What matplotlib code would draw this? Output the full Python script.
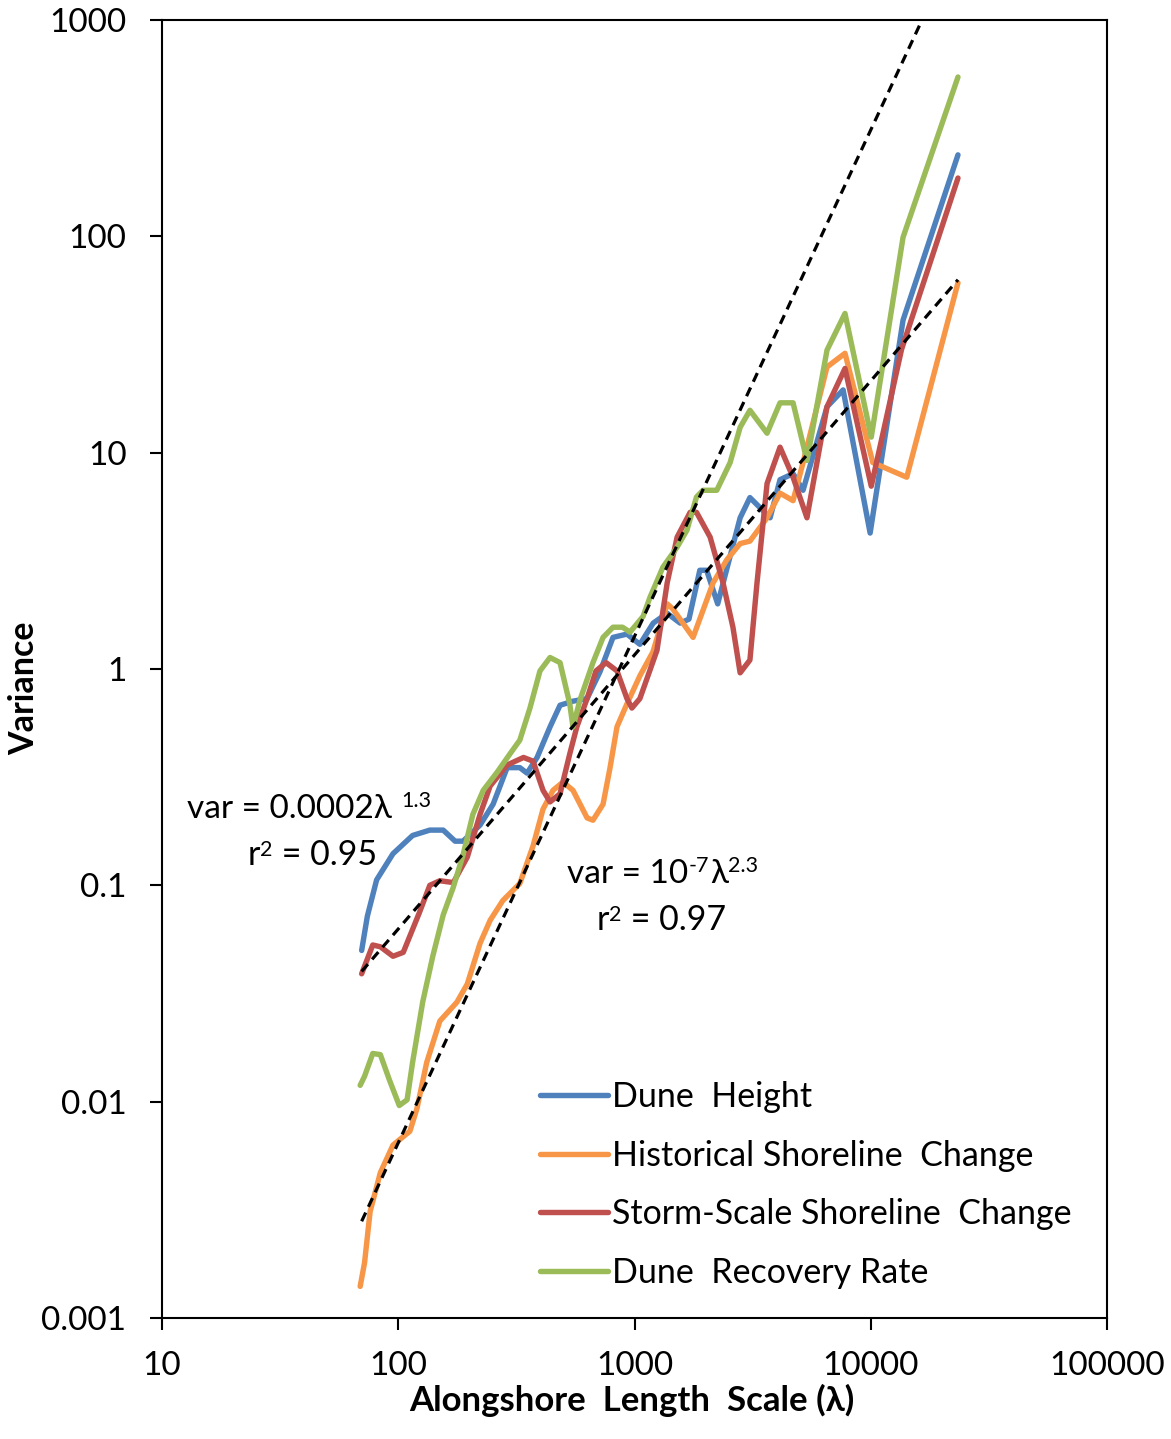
import matplotlib
matplotlib.use("Agg")
import matplotlib.pyplot as plt

plt.rcParams['font.family'] = ['Lato', 'DejaVu Sans']

# ---- data ----
blue_x = [70, 74, 81, 95, 115, 136, 155, 174, 188, 222, 252, 289, 327, 351, 387, 439, 484, 549, 630, 714,
          811, 929, 1054, 1200, 1375, 1560, 1700, 1890, 2020, 2250, 2800, 3080, 3750, 4130, 4690, 5170,
          6530, 7640, 9940, 13700, 23400]
blue_y = [0.05, 0.072, 0.106, 0.14, 0.17, 0.18, 0.18, 0.16, 0.16, 0.19, 0.237, 0.35, 0.35, 0.33, 0.39, 0.54,
          0.68, 0.71, 0.73, 0.97, 1.4, 1.45, 1.3, 1.63, 1.81, 1.63, 1.7, 2.86, 2.86, 2.0, 5.0, 6.2, 5.0, 7.5,
          8.0, 6.7, 16.3, 19.5, 4.25, 41, 238]

orange_x = [69, 72, 76, 84, 95, 112, 120, 132, 150, 177, 196, 222, 245, 277, 327, 372, 410, 452, 498, 549,
            630, 667, 736, 788, 843, 929, 1054, 1197, 1375, 1450, 1770, 2150, 2460, 2800, 3080, 3640, 4130,
            4690, 5170, 6530, 7780, 10200, 14200, 23400]
orange_y = [0.0014, 0.0018, 0.0031, 0.0047, 0.0063, 0.0073, 0.0093, 0.0152, 0.0236, 0.0288, 0.035, 0.054,
            0.069, 0.085, 0.102, 0.152, 0.225, 0.275, 0.30, 0.275, 0.205, 0.2, 0.237, 0.35, 0.54, 0.69, 0.93,
            1.2, 2.0, 1.9, 1.4, 2.5, 3.2, 3.8, 3.9, 5.0, 6.5, 6.0, 9.0, 24.9, 28.8, 9.0, 7.7, 61]

red_x = [70, 78, 84, 95, 105, 123, 136, 150, 171, 196, 222, 245, 289, 339, 372, 410, 439, 484, 532, 570,
         630, 687, 758, 843, 929, 975, 1054, 1245, 1375, 1515, 1720, 1830, 2090, 2370, 2610, 2800, 3080,
         3300, 3640, 4130, 4690, 5370, 6530, 7780, 10050, 13500, 23400]
red_y = [0.039, 0.053, 0.052, 0.047, 0.049, 0.075, 0.1, 0.105, 0.103, 0.135, 0.213, 0.288, 0.36, 0.39,
         0.375, 0.275, 0.243, 0.265, 0.405, 0.54, 0.73, 0.98, 1.07, 0.98, 0.73, 0.66, 0.73, 1.22, 2.5, 4.07,
         5.3, 5.3, 4.07, 2.5, 1.56, 0.96, 1.1, 2.5, 7.2, 10.6, 7.7, 5.0, 16.3, 24.5, 7.0, 30, 186]

green_x = [69, 72, 78, 84, 92, 101, 109, 115, 127, 140, 155, 171, 188, 207, 229, 262, 297, 327, 361, 398,
           439, 484, 532, 549, 588, 667, 736, 811, 890, 957, 1087, 1164, 1320, 1515, 1667, 1830, 1950, 2230,
           2540, 2800, 3080, 3640, 4130, 4690, 5370, 6530, 7780, 10050, 13700, 23400]
green_y = [0.0119, 0.0131, 0.0167, 0.0165, 0.0125, 0.0096, 0.0102, 0.0152, 0.029, 0.047, 0.073, 0.098,
           0.138, 0.213, 0.275, 0.333, 0.405, 0.469, 0.66, 0.98, 1.13, 1.07, 0.69, 0.54, 0.72, 1.07, 1.4,
           1.56, 1.56, 1.48, 1.75, 2.15, 2.96, 3.66, 4.38, 6.24, 6.7, 6.7, 9.0, 13.1, 15.7, 12.3, 17, 17, 9.2,
           29.8, 44, 11.8, 99, 545]

# power-law fit lines (straight in log-log), endpoints
fit1_x = [70, 23400]
fit1_y = [0.04, 63]
fit2_x = [70, 23400]
fit2_y = [0.0028, 2270]

series_names = ["Dune  Height", "Historical Shoreline  Change",
                "Storm-Scale Shoreline  Change", "Dune  Recovery Rate"]
colors = ["#4F81BD", "#F79646", "#C0504D", "#9BBB59"]

x_ticks = [10, 100, 1000, 10000, 100000]
x_ticklabels = ["10", "100", "1000", "10000", "100000"]
y_ticks = [0.001, 0.01, 0.1, 1, 10, 100, 1000]
y_ticklabels = ["0.001", "0.01", "0.1", "1", "10", "100", "1000"]

# ---- figure ----
W, H = 1171, 1439
fig = plt.figure(figsize=(W / 100, H / 100), dpi=100)
L, R, T, B = 162, 1107, 20, 1318
ax = fig.add_axes([L / W, 1 - B / H, (R - L) / W, (B - T) / H])
ax.set_xscale("log")
ax.set_yscale("log")
ax.set_xlim(10, 100000)
ax.set_ylim(0.001, 1000)

lw = 3.9
for xs, ys, c, n in zip([blue_x, orange_x, red_x, green_x], [blue_y, orange_y, red_y, green_y],
                        colors, series_names):
    ax.plot(xs, ys, color=c, lw=lw, label=n, solid_joinstyle="round", solid_capstyle="round", zorder=3)

ax.plot(fit1_x, fit1_y, color="black", lw=2.3, linestyle=(0, (3, 2)), zorder=4)
ax.plot(fit2_x, fit2_y, color="black", lw=2.3, linestyle=(0, (3, 2)), zorder=4)

ax.set_xticks(x_ticks)
ax.set_xticklabels(x_ticklabels)
ax.set_yticks(y_ticks)
ax.set_yticklabels(y_ticklabels)
ax.minorticks_off()
ax.tick_params(axis="both", direction="out", length=8.6, width=1.5, labelsize=24, colors="black")
ax.tick_params(axis="y", pad=17)
ax.tick_params(axis="x", pad=15)
for s in ax.spines.values():
    s.set_linewidth(1.5)

ax.set_xlabel("Alongshore  Length  Scale (λ)", fontsize=25, fontweight="bold")
ax.xaxis.set_label_coords(0.497, -0.051)
ax.set_ylabel("Variance", fontsize=24.5, fontweight="bold")
ax.yaxis.set_label_coords(-0.129, 0.4854)


def ftx(px):
    return (px - L) / (R - L)


def fty(py):
    return (B - py) / (B - T)


def t(px, py, s, size=24):
    return ax.text(ftx(px), fty(py), s, transform=ax.transAxes, fontsize=size, ha="left", va="baseline")


def chain(prev, py, s, dx_px, size=24):
    return ax.annotate(s, xy=(1, fty(py)), xycoords=(prev, "axes fraction"),
                       xytext=(dx_px * 0.72, 0), textcoords="offset points",
                       fontsize=size, ha="left", va="baseline")


a = t(187, 818, "var = 0.0002λ")
chain(a, 807, "1.3", 9, 15.5)

r1 = t(248, 865, "r", 24.5)
r1s = chain(r1, 856, "2", 0, 15.5)
chain(r1s, 865, " = 0.95", 0, 24.5)

b = t(567, 883, "var = 10")
b2 = chain(b, 872, "-7", 1, 15.5)
b3 = chain(b2, 883, "λ", 1)
chain(b3, 872, "2.3", -1, 15.5)

r2 = t(597, 930, "r", 24.5)
r2s = chain(r2, 921, "2", 0, 15.5)
chain(r2s, 930, " = 0.97", 0, 24.5)

leg = ax.legend(loc="upper left", bbox_to_anchor=(ftx(540), fty(1081)), frameon=False, fontsize=24.5,
                handlelength=2.0, handletextpad=0.12, labelspacing=0.78, borderpad=0, borderaxespad=0)

fig.savefig("out.png", dpi=100)
